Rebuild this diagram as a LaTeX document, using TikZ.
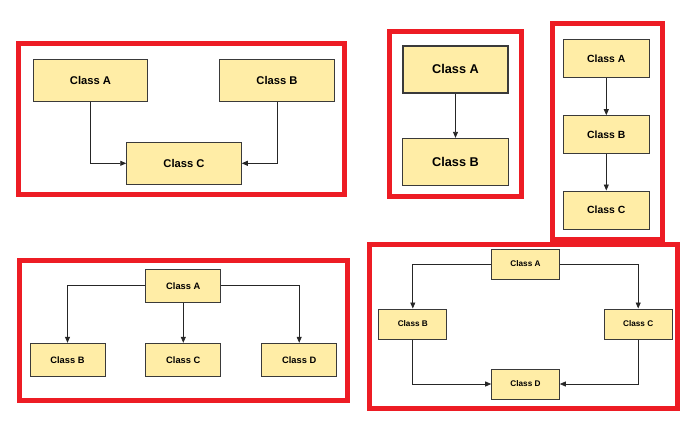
\documentclass[tikz,border=0pt]{standalone}
\usepackage{fontspec}
\setmainfont{Liberation Sans}
\usetikzlibrary{arrows.meta}
\definecolor{boxfill}{HTML}{FFEDA6}
\definecolor{frame}{HTML}{ED1C24}
\definecolor{edge}{HTML}{3A3A3A}
\tikzset{
  frm/.style={draw=frame, line width=5pt},
  cls/.style={draw=edge, fill=boxfill, line width=1pt, inner sep=0pt, font=\bfseries},
  con/.style={draw=black!85, line width=0.8pt, -{Triangle[length=6pt,width=5pt]}},
}
\newcommand{\clsbox}[6]{\node[cls,#6, minimum width=#4-#2, minimum height=#5-#3] (#1) at ({(#2+#4)/2},{(#3+#5)/2}) {};}
\begin{document}
\begin{tikzpicture}[x=1pt,y=-1pt]
\useasboundingbox (0,0) rectangle (692,421);
% Panel 1
\draw[frm] (18.5,43.5) rectangle (344,194.5);
\node[cls,minimum width=114.5pt,minimum height=42pt,font=\fontsize{11.2}{13}\selectfont\bfseries] (p1a) at (90.5,80) {Class A};
\node[cls,minimum width=114.5pt,minimum height=42pt,font=\fontsize{11.2}{13}\selectfont\bfseries] (p1b) at (277,80) {Class B};
\node[cls,minimum width=114.5pt,minimum height=42pt,font=\fontsize{11.2}{13}\selectfont\bfseries] (p1c) at (184,163.3) {Class C};
\draw[con] (p1a.south) |- (p1c.west);
\draw[con] (p1b.south) |- (p1c.east);
% Panel 2
\draw[frm] (389,31.5) rectangle (521,196);
\node[cls,line width=2pt,minimum width=105.5pt,minimum height=46.5pt,font=\fontsize{12.7}{15}\selectfont\bfseries] (p2a) at (455.5,69.3) {Class A};
\node[cls,minimum width=105.5pt,minimum height=47.3pt,font=\fontsize{12.7}{15}\selectfont\bfseries] (p2b) at (455.5,162) {Class B};
\draw[con] (p2a.south) -- (p2b.north);
% Panel 3
\draw[frm] (552.5,23.5) rectangle (662,239.5);
\node[cls,minimum width=86pt,minimum height=38.3pt,font=\fontsize{10.4}{12}\selectfont\bfseries] (p3a) at (606.3,58.5) {Class A};
\node[cls,minimum width=86pt,minimum height=37.6pt,font=\fontsize{10.4}{12}\selectfont\bfseries] (p3b) at (606.3,134.5) {Class B};
\node[cls,minimum width=86pt,minimum height=38pt,font=\fontsize{10.4}{12}\selectfont\bfseries] (p3c) at (606.3,210) {Class C};
\draw[con] (p3a.south) -- (p3b.north);
\draw[con] (p3b.south) -- (p3c.north);
% Panel 4
\draw[frm] (19.5,260.8) rectangle (347.5,400.5);
\node[cls,minimum width=74.7pt,minimum height=33pt,font=\fontsize{9.3}{11}\selectfont\bfseries] (p4a) at (183.3,285.8) {Class A};
\node[cls,minimum width=75pt,minimum height=33.4pt,font=\fontsize{9.3}{11}\selectfont\bfseries] (p4b) at (67.5,360) {Class B};
\node[cls,minimum width=74.7pt,minimum height=33.4pt,font=\fontsize{9.3}{11}\selectfont\bfseries] (p4c) at (183.3,360) {Class C};
\node[cls,minimum width=75pt,minimum height=33.4pt,font=\fontsize{9.3}{11}\selectfont\bfseries] (p4d) at (299.2,360) {Class D};
\draw[con] (p4a.west) -| (p4b.north);
\draw[con] (p4a.south) -- (p4c.north);
\draw[con] (p4a.east) -| (p4d.north);
% Panel 5
\draw[frm] (369.8,244.5) rectangle (677.5,408);
\node[cls,minimum width=67.6pt,minimum height=30pt,font=\fontsize{8.2}{10}\selectfont\bfseries] (p5a) at (525.5,264) {Class A};
\node[cls,minimum width=67.7pt,minimum height=30pt,font=\fontsize{8.2}{10}\selectfont\bfseries] (p5b) at (412.8,324) {Class B};
\node[cls,minimum width=67.7pt,minimum height=30pt,font=\fontsize{8.2}{10}\selectfont\bfseries] (p5c) at (638.2,324) {Class C};
\node[cls,minimum width=67.6pt,minimum height=30pt,font=\fontsize{8.2}{10}\selectfont\bfseries] (p5d) at (525.5,384) {Class D};
\draw[con] (p5a.west) -| (p5b.north);
\draw[con] (p5a.east) -| (p5c.north);
\draw[con] (p5b.south) |- (p5d.west);
\draw[con] (p5c.south) |- (p5d.east);
\end{tikzpicture}
\end{document}
